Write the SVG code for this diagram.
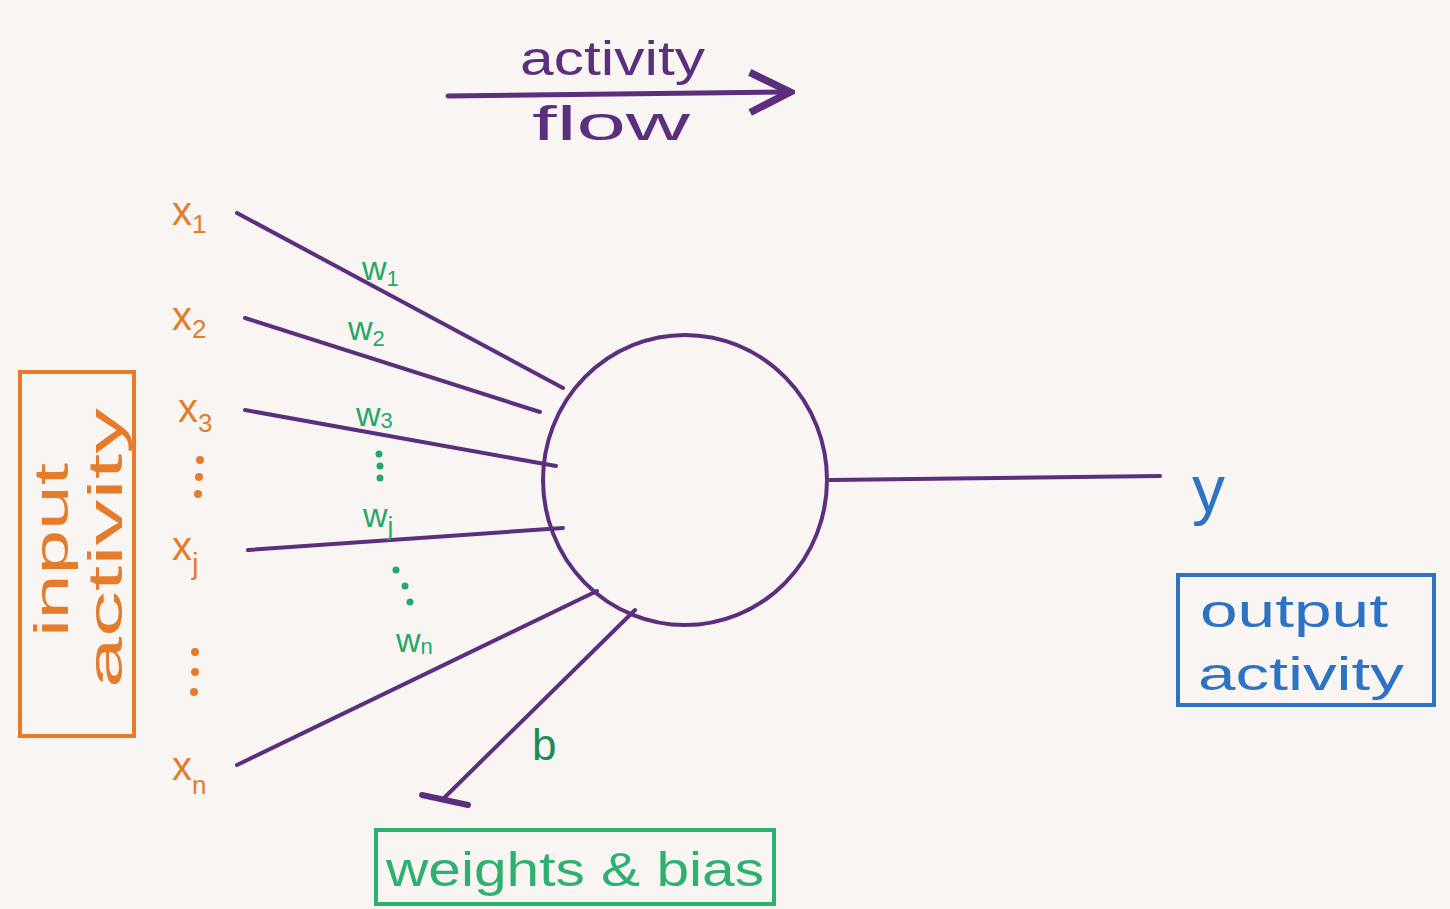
<svg xmlns="http://www.w3.org/2000/svg" width="1450" height="909" viewBox="0 0 1450 909">
<defs>
<style>
.bg{fill:#f8f5f3}
.pen{stroke:#5b2f7d;stroke-width:4;fill:none;stroke-linecap:round}
.in{fill:#e47c2c;font-family:"Liberation Sans",sans-serif;font-size:40px}
.w{fill:#27a866;font-family:"Liberation Sans",sans-serif;font-size:34px}
.dot{fill:#e47c2c}
.gdot{fill:#27a866}
.obox{fill:none;stroke:#e47c2c;stroke-width:4}
.gbox{fill:none;stroke:#2eb06e;stroke-width:4}
.bbox{fill:none;stroke:#2c73c4;stroke-width:4}
.flow{fill:#5b2f7d;font-family:"Liberation Sans",sans-serif;font-size:48px}
</style>
<marker id="arr" viewBox="0 0 20 20" refX="18" refY="10" markerWidth="10" markerHeight="10" markerUnits="strokeWidth" orient="auto">
<path d="M2,2 L18,10 L2,18" fill="none" stroke="#5b2f7d" stroke-width="3"/>
</marker>
</defs>
<rect class="bg" x="0" y="0" width="1450" height="909"/>

<g id="connectors">
<line class="pen" x1="237" y1="213" x2="563" y2="388"/>
<line class="pen" x1="245" y1="318" x2="540" y2="412"/>
<line class="pen" x1="245" y1="410" x2="556" y2="466"/>
<line class="pen" x1="248" y1="550" x2="563" y2="528"/>
<line class="pen" x1="237" y1="765" x2="597" y2="591"/>
<line class="pen" x1="635" y1="610" x2="445" y2="797"/>
<line class="pen" x1="422" y1="795" x2="468" y2="805" style="stroke-width:6"/>
<line class="pen" x1="830" y1="480" x2="1160" y2="476"/>
</g>

<g id="neuron">
<ellipse class="pen" cx="685" cy="480" rx="142" ry="145"/>
</g>

<g id="flow-arrow">
<line class="pen" x1="448" y1="96" x2="790" y2="92" marker-end="url(#arr)" style="stroke-width:5"/>
<text class="flow" x="520" y="75" textLength="185" lengthAdjust="spacingAndGlyphs">activity</text>
<text class="flow" x="532" y="140" textLength="158" lengthAdjust="spacingAndGlyphs">flow</text>
</g>

<g id="inputs">
<text class="in" x="172" y="225">x<tspan font-size="26" dy="8">1</tspan></text>
<text class="in" x="172" y="330">x<tspan font-size="26" dy="8">2</tspan></text>
<text class="in" x="178" y="422">x<tspan font-size="26" dy="10">3</tspan></text>
<circle class="dot" cx="200" cy="460" r="4"/>
<circle class="dot" cx="199" cy="477" r="4"/>
<circle class="dot" cx="198" cy="494" r="4"/>
<text class="in" x="172" y="560">x<tspan font-size="30" dy="14">j</tspan></text>
<circle class="dot" cx="195" cy="652" r="4"/>
<circle class="dot" cx="195" cy="672" r="4"/>
<circle class="dot" cx="194" cy="692" r="4"/>
<text class="in" x="172" y="780">x<tspan font-size="26" dy="14">n</tspan></text>
</g>

<g id="weights">
<text class="w" x="362" y="280">w<tspan font-size="22" dy="6">1</tspan></text>
<text class="w" x="348" y="340">w<tspan font-size="22" dy="6">2</tspan></text>
<text class="w" x="356" y="426">w<tspan font-size="22" dy="2">3</tspan></text>
<circle class="gdot" cx="379" cy="454" r="3.5"/>
<circle class="gdot" cx="380" cy="466" r="3.5"/>
<circle class="gdot" cx="380" cy="478" r="3.5"/>
<text class="w" x="363" y="527">w<tspan font-size="26" dy="8">j</tspan></text>
<circle class="gdot" cx="396" cy="570" r="3.5"/>
<circle class="gdot" cx="405" cy="586" r="3.5"/>
<circle class="gdot" cx="410" cy="602" r="3.5"/>
<text class="w" x="396" y="652">w<tspan font-size="22" dy="2">n</tspan></text>
<text class="w" x="532" y="760" style="fill:#1f8a57;font-size:44px">b</text>
</g>

<g id="input-activity">
<rect class="obox" x="20" y="372" width="114" height="364"/>
<text class="in" style="font-size:48px" transform="translate(68,550) rotate(-90)" x="-87" textLength="174" lengthAdjust="spacingAndGlyphs">input</text>
<text class="in" style="font-size:48px" transform="translate(122,548) rotate(-90)" x="-140" textLength="280" lengthAdjust="spacingAndGlyphs">activity</text>
</g>

<g id="output">
<text x="1192" y="512" fill="#2c73c4" font-family="Liberation Sans,sans-serif" font-size="66">y</text>
</g>

<g id="output-activity">
<rect class="bbox" x="1178" y="575" width="256" height="130"/>
<text x="1200" y="627" fill="#2c73c4" font-family="Liberation Sans,sans-serif" font-size="46" textLength="188" lengthAdjust="spacingAndGlyphs">output</text>
<text x="1198" y="690" fill="#2c73c4" font-family="Liberation Sans,sans-serif" font-size="46" textLength="206" lengthAdjust="spacingAndGlyphs">activity</text>
</g>

<g id="weights-bias">
<rect class="gbox" x="376" y="830" width="398" height="74"/>
<text x="386" y="886" fill="#2eb06e" font-family="Liberation Sans,sans-serif" font-size="48" textLength="378" lengthAdjust="spacingAndGlyphs">weights &amp; bias</text>
</g>
</svg>
